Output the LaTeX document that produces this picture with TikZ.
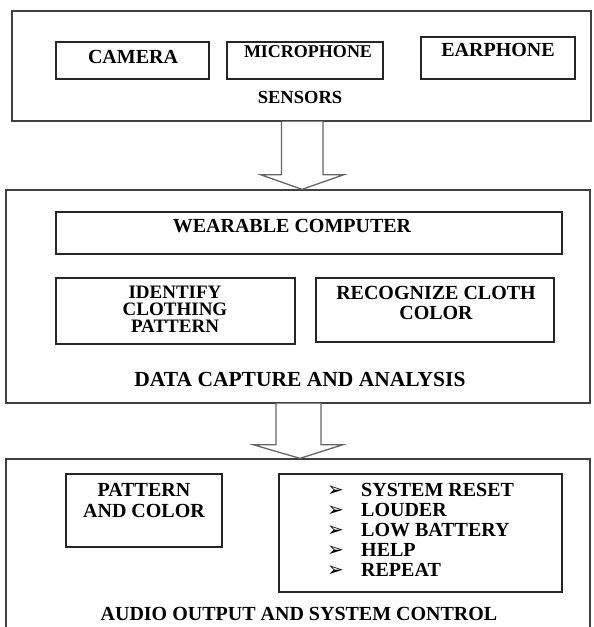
\documentclass[tikz,border=0pt]{standalone}
\usepackage{fontspec}
\setmainfont{Liberation Serif}
\newfontfamily\dingfont{DejaVu Sans}
\usetikzlibrary{calc}
\tikzset{
  frame/.style={draw=black!75, line width=1.3pt, inner sep=0pt},
  box/.style={draw=black!85, line width=1.1pt, inner sep=0pt},
  lbl/.style={font=\fontsize{20}{17}\selectfont\bfseries, inner sep=0pt, align=center},
  blockarrow/.style={draw=black!60, line width=1.3pt, fill=white, line join=miter},
}
\newcommand{\bitem}[1]{\makebox[34pt][l]{\dingfont\fontsize{20}{20}\selectfont\raisebox{0pt}{➢}}#1}
\begin{document}
\begin{tikzpicture}[x=1pt,y=-1pt]
\useasboundingbox (0,0) rectangle (594,627);
\clip (0,0) rectangle (594,627);

% sensors stage
\node[frame, minimum width=579, minimum height=110] (sensors) at (301.5,66) {};
\node[box, minimum width=153, minimum height=37] (camera) at (132.5,60.5) {};
\node[box, minimum width=156, minimum height=37] (micro) at (305,60.5) {};
\node[box, minimum width=154, minimum height=42] (ear) at (498,58) {};
\node[lbl] (tcamera) at (133,57) {CAMERA};
\node[lbl, font=\fontsize{18}{18}\selectfont\bfseries] (tmicro) at (308,52) {MICROPHONE};
\node[lbl] (tear) at (498,50) {EARPHONE};
\node[lbl, font=\fontsize{18.5}{18}\selectfont\bfseries] (tsensors) at (300,97) {SENSORS};

% data capture and analysis stage
\node[frame, minimum width=584, minimum height=213] (analysis) at (298,296.5) {};
\node[box, minimum width=506, minimum height=42] (wear) at (309,233) {};
\node[lbl] (twear) at (292,226) {WEARABLE COMPUTER};
\node[box, minimum width=239, minimum height=66] (ident) at (175.5,311) {};
\node[lbl, font=\fontsize{19}{17}\selectfont\bfseries] (tident) at (175,309.5) {IDENTIFY\\CLOTHING\\PATTERN};
\node[box, minimum width=238, minimum height=64] (recog) at (435,310) {};
\node[lbl, font=\fontsize{20}{20}\selectfont\bfseries] (trecog) at (436,303) {RECOGNIZE CLOTH\\COLOR};
\node[lbl, font=\fontsize{21.5}{20}\selectfont\bfseries] (tanalysis) at (300,379) {DATA CAPTURE AND ANALYSIS};

% audio output and system control stage
\node[frame, minimum width=584, minimum height=181] (audio) at (298,549.5) {};
\node[box, minimum width=156, minimum height=73] (patcol) at (144,510.5) {};
\node[lbl, font=\fontsize{20}{21}\selectfont\bfseries] (tpatcol) at (144,500) {PATTERN\\AND COLOR};
\node[box, minimum width=283, minimum height=118] (ctrl) at (420.5,533) {};
\node[lbl, align=left, anchor=west, font=\fontsize{20}{20}\selectfont\bfseries] (tctrl) at (327,529.5)
  {\bitem{SYSTEM RESET}\\\bitem{LOUDER}\\\bitem{LOW BATTERY}\\\bitem{HELP}\\\bitem{REPEAT}};
\node[lbl] (taudio) at (299,614) {AUDIO OUTPUT AND SYSTEM CONTROL};

% block arrows between the stages
\draw[blockarrow] ($(sensors.south)+(-20,0)$) -- ++(0,53) -- ++(-21,0)
  -- ($(analysis.north)+(4,0)$) -- ($(sensors.south)+(42.5,53)$) -- ++(-21,0)
  -- ($(sensors.south)+(21.5,0)$);
\draw[blockarrow] ($(analysis.south)+(-22,0)$) -- ++(0,41) -- ++(-23,0)
  -- ($(audio.north)+(2,0)$) -- ($(analysis.south)+(45,41)$) -- ++(-22,0)
  -- ($(analysis.south)+(23,0)$);
\end{tikzpicture}
\end{document}
